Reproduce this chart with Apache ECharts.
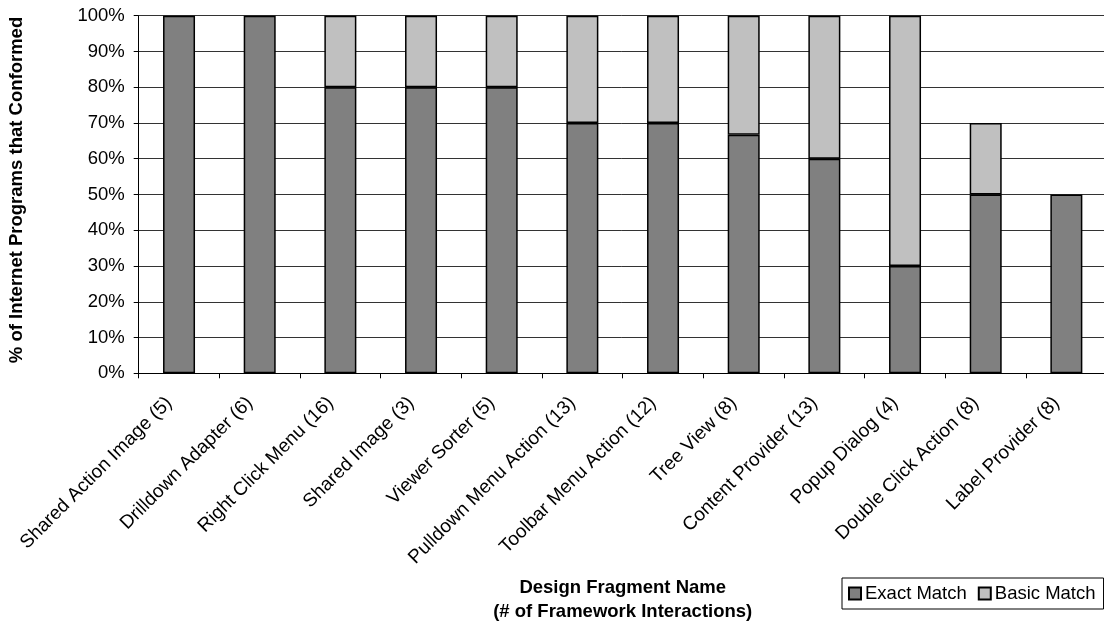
<!DOCTYPE html>
<html>
<head>
<meta charset="utf-8">
<script src="https://cdn.jsdelivr.net/npm/echarts@6/dist/echarts.min.js"></script>
<style>
html,body{margin:0;padding:0;background:#fff;}
#chart{width:1104px;height:623px;}
</style>
</head>
<body>
<div id="chart"></div>
<script>
const categories = [
  'Shared Action Image (5)', 'Drilldown Adapter (6)', 'Right Click Menu (16)',
  'Shared Image (3)', 'Viewer Sorter (5)', 'Pulldown Menu Action (13)',
  'Toolbar Menu Action (12)', 'Tree View (8)', 'Content Provider (13)',
  'Popup Dialog (4)', 'Double Click Action (8)', 'Label Provider (8)'
];
const exactMatch = [100, 100, 80, 80, 80, 70, 70, 66.7, 60, 30, 50, 50];
const basicMatch = [0, 0, 20, 20, 20, 30, 30, 33.3, 40, 70, 20, 0];
const seriesNames = ['Exact Match', 'Basic Match'];

const FONT = '"Liberation Sans", Arial, sans-serif';
const chart = echarts.init(document.getElementById('chart'), null, {renderer: 'canvas'});
chart.setOption({
  animation: false,
  backgroundColor: '#ffffff',
  textStyle: {fontFamily: FONT, color: '#000'},
  grid: {left: 138.7, top: 15.7, width: 968, height: 357.6, containLabel: false, outerBoundsMode: 'none'},
  legend: {
    data: seriesNames,
    left: 842, top: 578,
    orient: 'horizontal',
    itemWidth: 12, itemHeight: 12, itemGap: 11,
    icon: 'rect',
    padding: [6, 8, 6, 6],
    borderColor: '#000', borderWidth: 1,
    backgroundColor: '#fff',
    textStyle: {fontFamily: FONT, fontSize: 18.5, color: '#000', padding: [0, 0, 0, -1]}
  },
  xAxis: {
    type: 'category',
    data: categories,
    name: 'Design Fragment Name\n(# of Framework Interactions)',
    nameLocation: 'middle',
    nameGap: 203,
    nameTextStyle: {fontFamily: FONT, fontSize: 18.5, fontWeight: 'bold', color: '#000', lineHeight: 24},
    axisLine: {show: true, lineStyle: {color: '#000', width: 1}},
    axisTick: {show: true, length: 5, inside: false, lineStyle: {color: '#000'}},
    axisLabel: {rotate: 45, margin: 17, padding: [0, 14, 0, 0], fontFamily: FONT, fontSize: 19, color: '#000', interval: 0},
    splitLine: {show: false}
  },
  yAxis: {
    type: 'value',
    min: 0, max: 100, interval: 10,
    name: '% of Internet Programs that Conformed',
    nameLocation: 'middle',
    nameRotate: 90,
    nameGap: 112,
    nameTextStyle: {fontFamily: FONT, fontSize: 18.5, fontWeight: 'bold', color: '#000', padding: [0, 0, 0, 9]},
    axisLine: {show: true, lineStyle: {color: '#000', width: 1}},
    axisTick: {show: true, length: 5, lineStyle: {color: '#000'}},
    axisLabel: {formatter: '{value}%', margin: 14, fontFamily: FONT, fontSize: 18.5, color: '#000'},
    splitLine: {show: true, lineStyle: {color: '#333', width: 1}}
  },
  series: [
    {
      name: seriesNames[0], type: 'bar', stack: 'total', barWidth: 32,
      data: exactMatch.map(v => v === 0 ? '-' : v),
      itemStyle: {color: '#808080', borderColor: '#000', borderWidth: 1.5}
    },
    {
      name: seriesNames[1], type: 'bar', stack: 'total', barWidth: 32,
      data: basicMatch.map(v => v === 0 ? '-' : v),
      itemStyle: {color: '#c0c0c0', borderColor: '#000', borderWidth: 1.5}
    }
  ]
});
</script>
</body>
</html>
